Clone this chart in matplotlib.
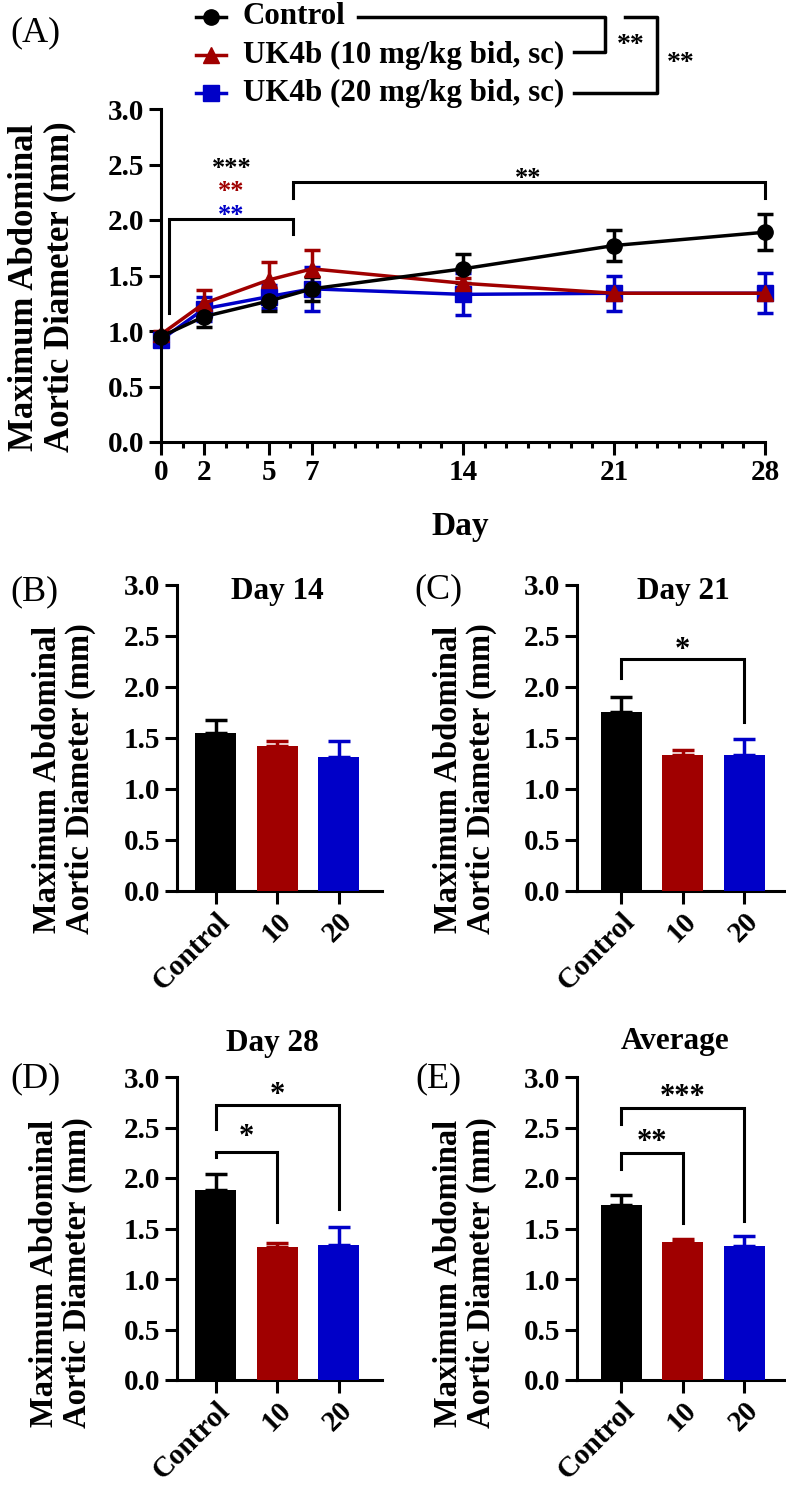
import matplotlib
matplotlib.use('Agg')
import matplotlib.pyplot as plt
from matplotlib.ticker import MultipleLocator, FormatStrFormatter

plt.rcParams['font.family'] = ['Liberation Serif', 'DejaVu Serif']
plt.rcParams['font.weight'] = 'bold'

# ---------------- data ----------------
days = [0, 2, 5, 7, 14, 21, 28]
ctrl_mean = [0.95, 1.13, 1.27, 1.38, 1.56, 1.77, 1.89]
ctrl_err = [0.03, 0.09, 0.09, 0.11, 0.13, 0.14, 0.16]
uk10_mean = [0.97, 1.25, 1.46, 1.56, 1.43, 1.34, 1.34]
uk10_err = [0.03, 0.12, 0.16, 0.17, 0.05, 0.04, 0.04]
uk20_mean = [0.92, 1.20, 1.31, 1.38, 1.33, 1.34, 1.34]
uk20_err = [0.03, 0.11, 0.10, 0.20, 0.19, 0.16, 0.18]

groups = ['Control', '10', '20']
day14_mean = [1.55, 1.42, 1.31]
day14_err = [0.13, 0.05, 0.16]
day21_mean = [1.75, 1.33, 1.33]
day21_err = [0.15, 0.05, 0.16]
day28_mean = [1.88, 1.32, 1.34]
day28_err = [0.16, 0.04, 0.17]
avg_mean = [1.73, 1.37, 1.33]
avg_err = [0.10, 0.03, 0.10]

legend_labels = ['Control', 'UK4b (10 mg/kg bid, sc)', 'UK4b (20 mg/kg bid, sc)']
ylabel = 'Maximum Abdominal\nAortic Diameter (mm)'

BLACK = '#000000'
RED = '#a00000'
BLUE = '#0000c8'
colors = [BLACK, RED, BLUE]

W, H = 786, 1495
fig = plt.figure(figsize=(W / 100, H / 100), dpi=100)


def box(l, t, r, b):
    return [l / W, 1 - b / H, (r - l) / W, (b - t) / H]


def fx(x):
    return x / W


def fy(y):
    return 1 - y / H


def style(ax, ticklen=9):
    for s in ['top', 'right']:
        ax.spines[s].set_visible(False)
    for s in ['left', 'bottom']:
        ax.spines[s].set_linewidth(2.2)
    ax.tick_params(which='major', direction='out', width=2.2, length=ticklen,
                   labelsize=21, pad=3)
    ax.set_ylim(0, 3)
    ax.yaxis.set_major_locator(MultipleLocator(0.5))
    ax.yaxis.set_major_formatter(FormatStrFormatter('%.1f'))


def star(ax, x, y, s, color=BLACK, size=19):
    ax.annotate(s, xy=(x, y), xytext=(0, -6), textcoords='offset points',
                ha='center', va='center', fontsize=size, color=color,
                fontweight='bold', annotation_clip=False)


def bracket(ax, xs, ys, lw=2.2):
    ax.plot(xs, ys, color=BLACK, lw=lw, clip_on=False, solid_joinstyle='miter')


# ---------------- panel A ----------------
axA = fig.add_axes(box(161, 109, 765, 442))
style(axA, ticklen=9)
axA.set_xlim(0, 28)
axA.set_xticks(days)
axA.xaxis.set_minor_locator(MultipleLocator(1))
axA.tick_params(which='minor', direction='out', width=2.2, length=4.5)

series = [(uk20_mean, uk20_err, BLUE, 's'),
          (uk10_mean, uk10_err, RED, '^'),
          (ctrl_mean, ctrl_err, BLACK, 'o')]
for mean, err, c, m in series:
    eb = axA.errorbar(days, mean, yerr=err, color=c, marker=m, ms=11,
                      lw=2.5, elinewidth=2.5, capsize=6, capthick=2.5,
                      clip_on=False)
    for art in list(eb.lines[1]) + list(eb.lines[2]):
        art.set_clip_on(False)

bracket(axA, [0.35, 0.35, 6.12, 6.12], [1.16, 2.01, 2.01, 1.87])
bracket(axA, [6.12, 6.12, 28, 28], [2.20, 2.34, 2.34, 2.20])
star(axA, 3.27, 2.54, '***', BLACK, 19)
star(axA, 3.27, 2.33, '**', RED, 19)
star(axA, 3.27, 2.12, '**', BLUE, 19)
star(axA, 17.0, 2.45, '**', BLACK, 19)

fig.text(fx(460), fy(526), 'Day', ha='center', va='center', fontsize=24)
fig.text(fx(42), fy(287), ylabel, rotation=90, ha='center', va='center',
         fontsize=25, multialignment='center', linespacing=1.1)
fig.text(fx(35), fy(33), '(A)', ha='center', va='center', fontsize=26,
         fontweight='normal')

# legend + group comparison brackets (figure pixel overlay)
ov = fig.add_axes([0, 0, 1, 1], zorder=-1)
ov.set_xlim(0, W)
ov.set_ylim(H, 0)
ov.axis('off')
rows = [17, 55, 93]
markers = ['o', '^', 's']
for lab, c, m, yy in zip(legend_labels, colors, markers, rows):
    ov.plot([196, 226], [yy, yy], color=c, lw=2.5)
    ov.plot([211], [yy], marker=m, color=c, ms=11)
    ov.text(243, yy, lab, ha='left', va='center', fontsize=22.3)
ov.plot([358, 605, 605, 574], [17, 17, 52, 52], color=BLACK, lw=2.5)
ov.plot([625, 657, 657, 574], [17, 17, 93, 93], color=BLACK, lw=2.5)
ov.text(631, 45, '**', ha='center', va='center', fontsize=20)
ov.text(681, 64, '**', ha='center', va='center', fontsize=20)


# ---------------- bar panels ----------------
def bar_panel(l, t, b, xleft, means, errs, title, tpos, lpos, ylpos, letter):
    scale = 61.5
    r = l + (2.7 - xleft) * scale
    ax = fig.add_axes(box(l, t, r, b))
    style(ax, ticklen=9)
    ax.set_xlim(xleft, 2.7)
    x = list(range(len(groups)))
    ax.bar(x, means, width=0.66, color=colors, zorder=3)
    for xi, m, e, c in zip(x, means, errs, colors):
        ax.errorbar([xi], [m], yerr=[[0], [e]], fmt='none', ecolor=c,
                    elinewidth=2.5, capsize=8, capthick=2.5, zorder=2)
    ax.set_xticks(x)
    ax.set_xticklabels(groups, rotation=45, ha='right', va='top',
                       rotation_mode='anchor')
    fig.text(fx(tpos[0]), fy(tpos[1]), title, ha='center', va='center',
             fontsize=22.5)
    fig.text(fx(ylpos[0]), fy(ylpos[1]), ylabel, rotation=90, ha='center',
             va='center', fontsize=23.5, multialignment='center',
             linespacing=1.1)
    fig.text(fx(lpos[0]), fy(lpos[1]), letter, ha='center', va='center',
             fontsize=26, fontweight='normal')
    return ax


axB = bar_panel(177, 585, 891, -0.63, day14_mean, day14_err, 'Day 14',
                (277, 592), (34, 592), (64, 779), '(B)')
axC = bar_panel(577, 585, 891, -0.72, day21_mean, day21_err, 'Day 21',
                (683, 592), (438, 590), (465, 779), '(C)')
bracket(axC, [0, 0, 2, 2], [2.09, 2.27, 2.27, 1.66])
star(axC, 1, 2.44, '*', size=22)

axD = bar_panel(177, 1077, 1380, -0.63, day28_mean, day28_err, 'Day 28',
                (272, 1043), (35, 1079), (61, 1273), '(D)')
bracket(axD, [0, 0, 1, 1], [2.21, 2.26, 2.26, 1.56])
bracket(axD, [0, 0, 2, 2], [2.49, 2.72, 2.72, 1.69])
star(axD, 0.5, 2.48, '*', size=22)
star(axD, 1, 2.90, '*', size=22)

axE = bar_panel(577, 1077, 1380, -0.72, avg_mean, avg_err, 'Average',
                (675, 1042), (438, 1079), (465, 1273), '(E)')
bracket(axE, [0, 0, 1, 1], [2.09, 2.25, 2.25, 1.55])
bracket(axE, [0, 0, 2, 2], [2.53, 2.69, 2.69, 1.57])
star(axE, 0.5, 2.43, '**', size=22)
star(axE, 1, 2.88, '***', size=22)

fig.savefig('out.png', dpi=100)
